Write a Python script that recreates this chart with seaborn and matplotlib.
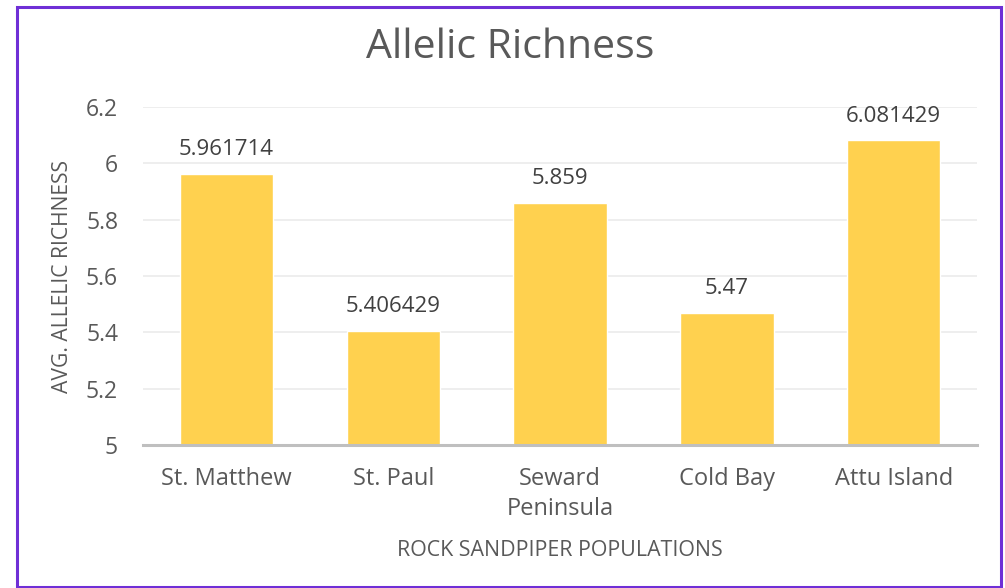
import matplotlib
matplotlib.use("Agg")
import matplotlib.pyplot as plt
import seaborn as sns
import pandas as pd
from matplotlib.patches import Rectangle

populations = ["St. Matthew", "St. Paul", "Seward\nPeninsula", "Cold Bay", "Attu Island"]
richness = [5.961714, 5.406429, 5.859, 5.47, 6.081429]
value_labels = ["5.961714", "5.406429", "5.859", "5.47", "6.081429"]
y_ticks = [5, 5.2, 5.4, 5.6, 5.8, 6, 6.2]
y_tick_labels = ["5", "5.2", "5.4", "5.6", "5.8", "6", "6.2"]

df = pd.DataFrame({"population": populations, "richness": richness})

sns.set_theme(style="white")
plt.rcParams["font.family"] = ["Open Sans", "DejaVu Sans"]
text_color = "#595959"

fig = plt.figure(figsize=(10.05, 5.88), dpi=100)
ax = fig.add_axes([0.1423, 0.2432, 0.830, 0.5748])

sns.barplot(data=df, x="population", y="richness", color="#ffd14f",
            saturation=1, width=0.56, ax=ax, zorder=2)

ax.set_ylim(5, 6.2)
ax.set_yticks(y_ticks)
ax.set_yticklabels(y_tick_labels)
ax.yaxis.grid(True, color="#ebebeb", linewidth=1.2, zorder=0)
ax.set_axisbelow(True)
for side in ["top", "right", "left"]:
    ax.spines[side].set_visible(False)
ax.spines["bottom"].set_color("#bfbfbf")
ax.spines["bottom"].set_linewidth(2.2)
ax.spines["bottom"].set_zorder(3)

ax.tick_params(axis="x", length=0, labelsize=17, labelcolor=text_color, pad=16)
ax.tick_params(axis="y", length=0, labelsize=16.5, labelcolor=text_color, pad=18)
for lbl in ax.get_xticklabels():
    lbl.set_linespacing(1.3)

ax.bar_label(ax.containers[0], labels=value_labels, padding=10,
             fontsize=16, color="#404040")

ax.set_xlabel("ROCK SANDPIPER POPULATIONS", fontsize=15.4, color=text_color, labelpad=14)
ax.set_ylabel("AVG. ALLELIC RICHNESS", fontsize=15.2, color=text_color, labelpad=9)

fig.text(0.508, 0.918, "Allelic Richness", ha="center", va="center",
         fontsize=29.5, color=text_color)

# purple frame around the chart
fig.patches.append(Rectangle((0.017, 0.002), 0.979, 0.986, transform=fig.transFigure,
                             fill=False, edgecolor="#6f2fd6", linewidth=2.2))

fig.savefig("out.png", dpi=100)
